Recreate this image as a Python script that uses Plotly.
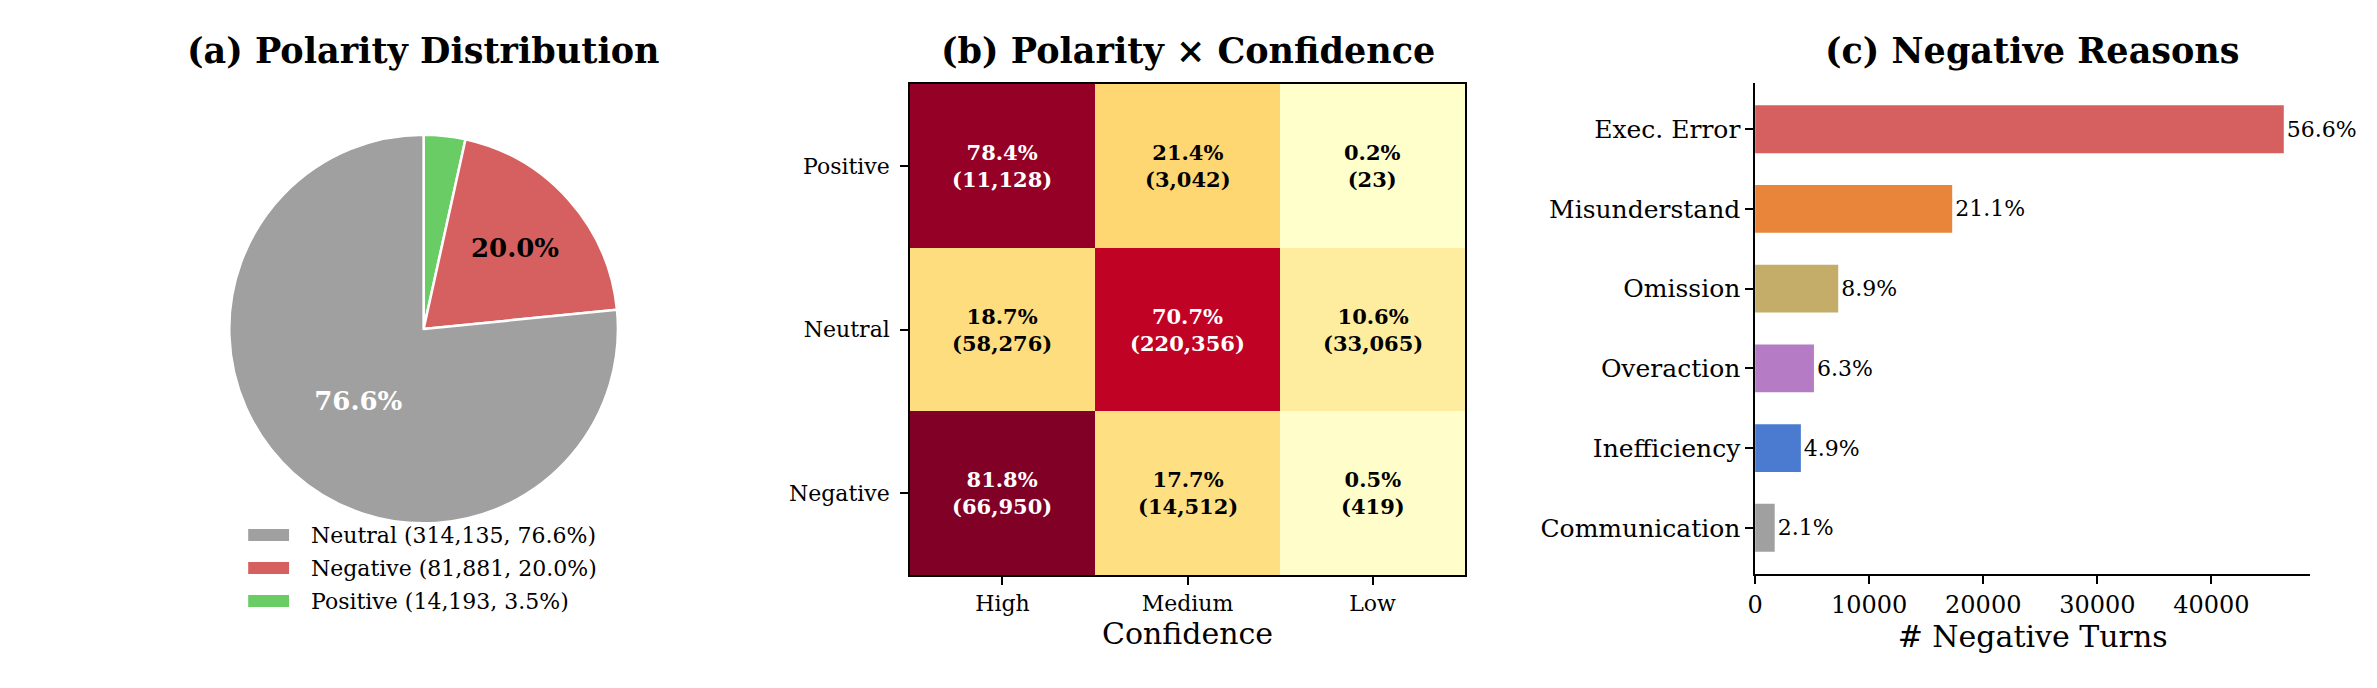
import plotly.graph_objects as go

W, H = 2377, 688
FONT = "DejaVu Serif"

# ---------------- data ----------------
polarity_labels = ["Neutral", "Negative", "Positive"]
polarity_counts = [314135, 81881, 14193]
polarity_colors = ["#a0a0a0", "#d66060", "#6acc64"]

conf_levels = ["High", "Medium", "Low"]
heat_rows = ["Positive", "Neutral", "Negative"]
heat_counts = [
    [11128, 3042, 23],
    [58276, 220356, 33065],
    [66950, 14512, 419],
]

reasons = ["Exec. Error", "Misunderstand", "Omission", "Overaction", "Inefficiency", "Communication"]
reason_counts = [46345, 17277, 7287, 5159, 4012, 1719]
reason_colors = ["#d66060", "#e8853a", "#c4ad69", "#b57bc5", "#4a7bd1", "#a0a0a0"]

ylorrd = ["#ffffcc", "#ffeda0", "#fed976", "#feb24c", "#fd8d3c",
          "#fc4e2a", "#e31a1c", "#bd0026", "#800026"]

# ---------------- derived ----------------
tot = sum(polarity_counts)
pol_pct = [c / tot * 100 for c in polarity_counts]
neg_total = polarity_counts[polarity_labels.index("Negative")]
row_pct = [[c / sum(r) * 100 for c in r] for r in heat_counts]
reason_pct = [c / neg_total * 100 for c in reason_counts]

fig = go.Figure()

# ---------------- (a) pie (counter-clockwise from 12 o'clock == reversed clockwise) ----------------
txt_colors = ["white", "black", "black"]
fig.add_trace(go.Pie(
    labels=polarity_labels[::-1], values=polarity_counts[::-1], sort=False,
    direction="clockwise", rotation=0,
    marker=dict(colors=polarity_colors[::-1], line=dict(color="white", width=2.5)),
    text=[f"<b>{p:.1f}%</b>" if p > 5 else "" for p in pol_pct][::-1],
    textinfo="text", textposition="inside", insidetextorientation="horizontal",
    textfont=dict(family=FONT, size=26, color=txt_colors[::-1]),
    domain=dict(x=[222 / W, 612 / W], y=[1 - 524 / H, 1 - 134 / H]),
    showlegend=False,
))

annotations = []
shapes = []

# legend for pie (patches + labels)
for k, (lab, cnt, col, p) in enumerate(zip(polarity_labels, polarity_counts, polarity_colors, pol_pct)):
    yc = 535 + 33 * k
    shapes.append(dict(type="rect", xref="paper", yref="paper",
                       x0=241 / W, x1=282 / W, y0=1 - (yc + 6) / H, y1=1 - (yc - 6) / H,
                       fillcolor=col, line=dict(width=0)))
    annotations.append(dict(x=302 / W, y=1 - yc / H, xref="paper", yref="paper",
                            xanchor="left", yanchor="middle", showarrow=False,
                            text=f"{lab} ({cnt:,}, {p:.1f}%)",
                            font=dict(family=FONT, size=22, color="black")))

# ---------------- (b) heatmap ----------------
zflat = [v for r in row_pct for v in r]
fig.add_trace(go.Heatmap(
    z=row_pct, x=conf_levels, y=heat_rows,
    colorscale=[[i / 8, c] for i, c in enumerate(ylorrd)],
    zmin=min(zflat), zmax=max(zflat), showscale=False,
    xaxis="x2", yaxis="y2", hoverinfo="skip",
))
for i, rname in enumerate(heat_rows):
    for j, cname in enumerate(conf_levels):
        p = row_pct[i][j]
        annotations.append(dict(
            x=cname, y=rname, xref="x2", yref="y2", showarrow=False,
            text=f"<b>{p:.1f}%<br>({heat_counts[i][j]:,})</b>",
            font=dict(family=FONT, size=21, color="white" if p > 50 else "black"),
        ))

# ---------------- (c) bars ----------------
fig.add_trace(go.Bar(
    x=reason_counts, y=reasons, orientation="h", width=0.6,
    marker=dict(color=reason_colors, line=dict(width=0)),
    text=[f"{p:.1f}%" for p in reason_pct], textposition="outside",
    textfont=dict(family=FONT, size=22, color="black"),
    cliponaxis=False, constraintext="none",
    xaxis="x3", yaxis="y3", showlegend=False,
))

# ---------------- titles ----------------
for txt, xc in [("(a) Polarity Distribution", 417), ("(b) Polarity × Confidence", 1184),
                ("(c) Negative Reasons", 2031)]:
    annotations.append(dict(
        x=xc / W, y=1 - 50 / H, xref="paper", yref="paper", showarrow=False,
        xanchor="center", yanchor="middle",
        text=f"<b>{txt}</b>", font=dict(family=FONT, size=35, color="black"),
    ))


def axis_style(size):
    return dict(showgrid=False, zeroline=False, linecolor="black", linewidth=1.5,
                ticks="outside", ticklen=8, tickwidth=1.5, tickcolor="black",
                tickfont=dict(family=FONT, size=size, color="black"))


fig.update_layout(
    width=W, height=H, margin=dict(l=0, r=0, t=0, b=0),
    paper_bgcolor="white", plot_bgcolor="white",
    font=dict(family=FONT, color="black"),
    annotations=annotations, shapes=shapes,
    showlegend=False,
    xaxis2=dict(domain=[905 / W, 1462 / W], anchor="y2", showline=True, mirror=True,
                title=dict(text="Confidence", font=dict(family=FONT, size=30), standoff=8),
                **axis_style(22)),
    yaxis2=dict(domain=[1 - 575 / H, 1 - 84 / H], anchor="x2", showline=True, mirror=True,
                autorange="reversed", ticklabelstandoff=6, **axis_style(22)),
    xaxis3=dict(domain=[1753 / W, 2310 / W], anchor="y3", showline=True,
                range=[0, max(reason_counts) * 1.05], dtick=10000, tickformat="d",
                title=dict(text="# Negative Turns", font=dict(family=FONT, size=30), standoff=8),
                **axis_style(24)),
    yaxis3=dict(domain=[1 - 574 / H, 1 - 83 / H], anchor="x3", showline=True,
                type="category", categoryorder="array", categoryarray=reasons,
                range=[len(reasons) - 1 + 0.58, -0.58], **axis_style(25)),
)

fig.write_html("out.html")
